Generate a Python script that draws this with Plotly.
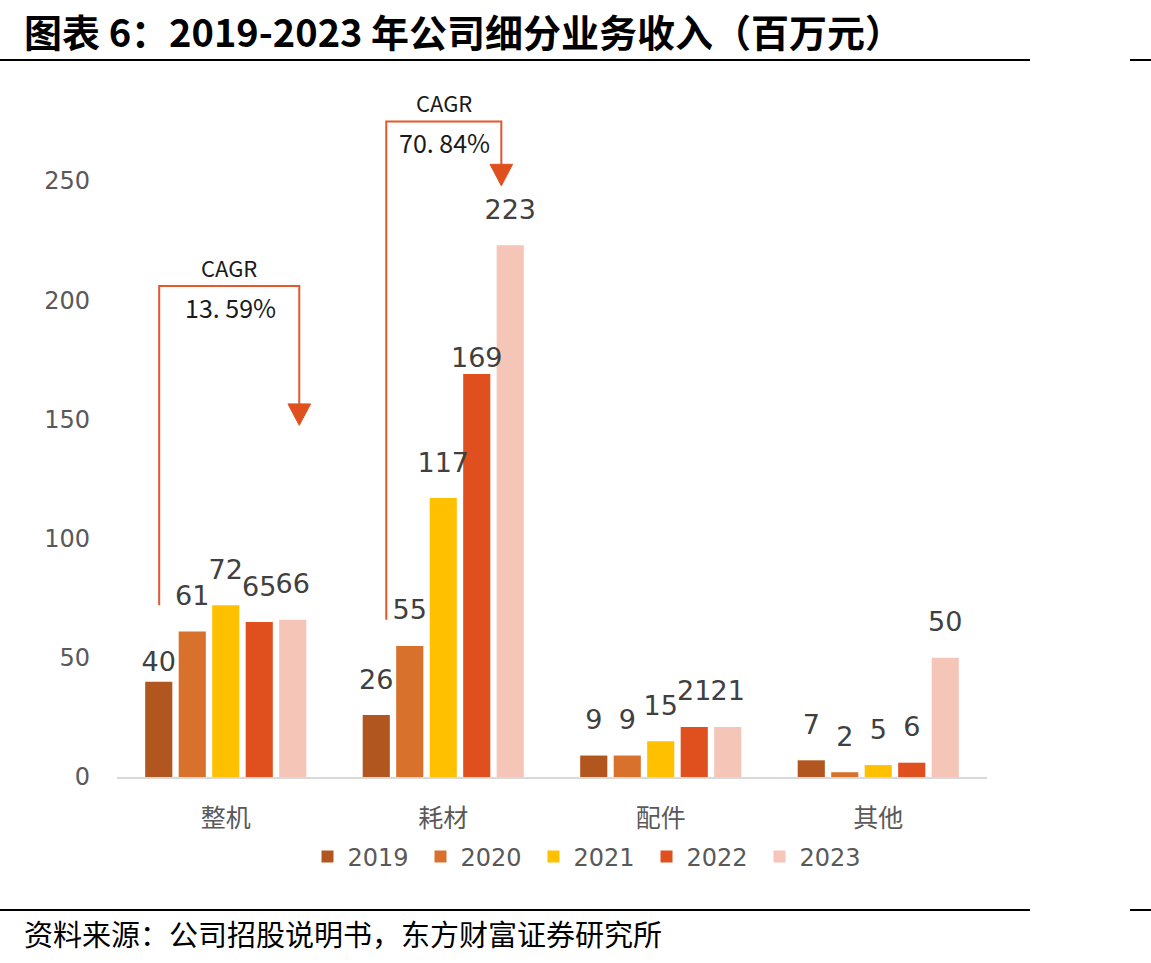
import plotly.graph_objects as go

categories = ["整机", "耗材", "配件", "其他"]
years = ["2019", "2020", "2021", "2022", "2023"]
values = {
    "2019": [40, 26, 9, 7],
    "2020": [61, 55, 9, 2],
    "2021": [72, 117, 15, 5],
    "2022": [65, 169, 21, 6],
    "2023": [66, 223, 21, 50],
}
colors = ["#B2561F", "#D7712B", "#FFC000", "#E0501E", "#F5C6B8"]
yticks = [0, 50, 100, 150, 200, 250]
cagr_labels = ["13.59%", "70.84%"]

# label offset (invisible marker size controls the gap above each bar)
label_gap = {
    "2019": [5, 30, 30, 30],
    "2020": [30, 30, 30, 30],
    "2021": [30, 30, 30, 30],
    "2022": [30, 0, 30, 30],
    "2023": [30, 30, 30, 30],
}

# plot area in pixels
L, R, T, B = 117, 987, 100, 777
W, H = 1151, 963

def px(x):
    return (x - L) / (R - L)

def py(y):
    return (B - y) / (B - T)

fig = go.Figure()
for yr, c in zip(years, colors):
    fig.add_trace(go.Bar(
        name=yr, x=categories, y=values[yr], marker_color=c,
        marker_line_width=0, hoverinfo="skip",
    ))
for yr in years:
    fig.add_trace(go.Scatter(
        x=categories, y=values[yr], mode="markers+text",
        text=[str(v) for v in values[yr]], textposition="top center",
        marker=dict(size=label_gap[yr], color="rgba(0,0,0,0)", opacity=0,
                    line=dict(width=0, color="rgba(0,0,0,0)")),
        textfont=dict(family="DejaVu Sans", size=27, color="#404040"),
        showlegend=False, hoverinfo="skip", cliponaxis=False,
    ))

ymax = (B - T) / ((777 - 181) / 250)

line_c = "#E3572A"
shapes = []
annotations = []

# CAGR brackets (in data coords of categorical axis)
brackets = [
    # x_left, x_right, y_start, y_top, y_tip
    (-0.306, 0.338, 72, 206, 147.5),
    (0.738, 1.267, 66, 275, 248),
]
for (xl, xr, ys, yt, ytip), lab in zip(brackets, cagr_labels):
    shapes.append(dict(type="path", xref="x", yref="y",
                       path=f"M {xl},{ys} L {xl},{yt} L {xr},{yt} L {xr},{ytip+8}",
                       line=dict(color=line_c, width=2)))
    shapes.append(dict(type="path", xref="x", yref="y",
                       path=f"M {xr-0.052},{ytip+9} L {xr+0.052},{ytip+9} L {xr},{ytip} Z",
                       fillcolor="#E0501E", line=dict(color="#E0501E", width=1)))
    annotations.append(dict(x=(xl + xr) / 2, y=yt, xref="x", yref="y", text="CAGR",
                            showarrow=False, yanchor="bottom", yshift=1,
                            font=dict(family="Noto Sans CJK SC", size=22, color="#1a1a1a")))
    annotations.append(dict(x=(xl + xr) / 2 + 0.005, y=yt, xref="x", yref="y",
                            text=lab.replace(".", ". "),
                            showarrow=False, yanchor="top", yshift=-1,
                            font=dict(family="Noto Sans CJK SC", size=25, color="#1a1a1a")))

# header / footer lines
for yline in [60, 910]:
    shapes.append(dict(type="line", xref="paper", yref="paper",
                       x0=px(0), x1=px(1030), y0=py(yline), y1=py(yline),
                       line=dict(color="#000000", width=2)))
    shapes.append(dict(type="line", xref="paper", yref="paper",
                       x0=px(1130), x1=px(1151), y0=py(yline), y1=py(yline),
                       line=dict(color="#000000", width=2)))

annotations.append(dict(x=px(22), y=py(30), xref="paper", yref="paper",
                        text="<b>图表 6：2019-2023 年公司细分业务收入（百万元）</b>",
                        showarrow=False, xanchor="left", yanchor="middle",
                        font=dict(family="Noto Sans CJK SC", size=38, color="#000000")))
annotations.append(dict(x=px(22), y=py(933), xref="paper", yref="paper",
                        text="资料来源：公司招股说明书，东方财富证券研究所",
                        showarrow=False, xanchor="left", yanchor="middle",
                        font=dict(family="Noto Sans CJK SC", size=29, color="#000000")))

fig.update_layout(
    width=W, height=H, autosize=False,
    margin=dict(l=L, r=W - R, t=T, b=H - B, pad=0, autoexpand=False),
    paper_bgcolor="white", plot_bgcolor="white",
    barmode="group", bargap=0.23, bargroupgap=0.19,
    scattermode="group", scattergap=0.23,
    shapes=shapes, annotations=annotations,
    showlegend=True,
    legend=dict(orientation="h", x=590 / W, xanchor="center", xref="container",
                y=1 - 857 / H, yanchor="middle", yref="container",
                font=dict(family="DejaVu Sans", size=24, color="#595959"),
                itemwidth=30, traceorder="normal", entrywidth=68),
)
fig.update_xaxes(showline=True, linecolor="#D9D9D9", linewidth=2, ticks="",
                 tickfont=dict(family="Noto Sans CJK SC", size=25, color="#595959"),
                 showgrid=False, ticklabelstandoff=18)
fig.update_yaxes(range=[0, ymax], tickvals=yticks, showgrid=False, zeroline=False,
                 showline=False, ticks="",
                 tickfont=dict(family="DejaVu Sans", size=24, color="#595959"),
                 ticklabelstandoff=26)

fig.write_html("out.html")
